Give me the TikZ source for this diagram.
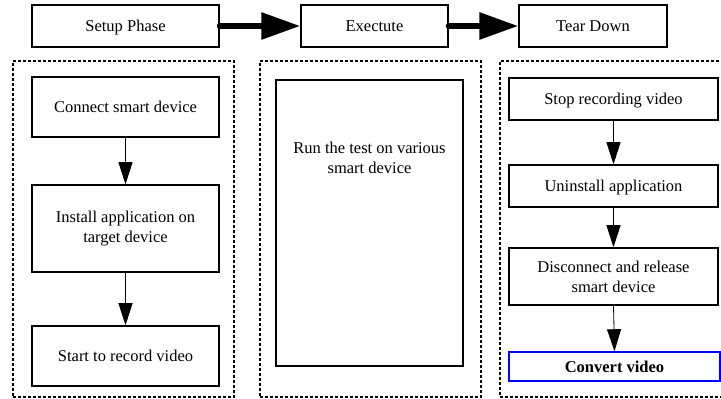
\documentclass[tikz,border=0pt]{standalone}
\usepackage{fontspec}
\setmainfont{Liberation Serif}
\usetikzlibrary{positioning}
\usetikzlibrary{arrows.meta}

\begin{document}
\begin{tikzpicture}[x=1pt, y=1pt,
font=\fontsize{16.5}{20}\selectfont,
phasenode/.style={rectangle, draw=black, line width=1.5pt, minimum height=42pt, inner sep=0pt, text height=12pt, text depth=0pt},
stepnode/.style={rectangle, draw=black, line width=1.5pt, align=center, inner sep=0pt},
onelinenode/.style={stepnode, text height=12pt, text depth=0pt},
groupnode/.style={rectangle, draw=black, line width=1.5pt, dash pattern=on 3pt off 2pt, minimum width=221pt, minimum height=336pt},
bigarrow/.style={-{Triangle[length=39pt, width=26pt]}, line width=6pt, line cap=round},
smallarrow/.style={-{Triangle[length=22pt, width=14pt]}, line width=0.8pt},
]
\useasboundingbox (0,0) rectangle (721,399);

%Groups
\node[groupnode] (setupgroup)    at (123.5,170) {};
\node[groupnode] (executegroup)  at (370.5,170) {};
\node[groupnode, minimum width=224pt] (teardowngroup) at (612,170) {};

%Phases
\node[phasenode, minimum width=187pt] (setup)    at (125.5,373) {Setup Phase};
\node[phasenode, minimum width=147pt] (execute)  at (374.5,373) {Exectute};
\node[phasenode, minimum width=148pt] (teardown) at (593,373)   {Tear Down};

%Setup steps
\node[onelinenode, minimum width=187pt, minimum height=60pt] (connect) at (125.5,292)   {Connect smart device};
\node[stepnode,    minimum width=187pt, minimum height=87pt] (install) at (125.5,170.5) {Install application on\\target device};
\node[onelinenode, minimum width=187pt, minimum height=60pt] (record)  at (125.5,43)    {Start to record video};

%Execute step
\node[stepnode, minimum width=187pt, minimum height=286pt, text depth=130pt] (runtest) at (369.5,176) {Run the test on various\\smart device};

%Tear down steps
\node[onelinenode, minimum width=209pt, minimum height=42pt] (stoprec)    at (613.5,300)   {Stop recording video};
\node[onelinenode, minimum width=209pt, minimum height=42pt] (uninstall)  at (613.5,213)   {Uninstall application};
\node[stepnode,    minimum width=209pt, minimum height=57pt] (disconnect) at (613.5,122.5) {Disconnect and release\\smart device};
\node[onelinenode, draw=blue, minimum width=211pt, minimum height=29pt, font=\fontsize{16.5}{20}\selectfont\bfseries] (convert) at (614.5,32.5) {Convert video};

%Lines
\draw[bigarrow] (setup.east) -- (execute.west);
\draw[bigarrow] (execute.east) -- (teardown.west);
\draw[smallarrow] (connect.south) -- (install.north);
\draw[smallarrow] (install.south) -- (record.north);
\draw[smallarrow] (stoprec.south) -- (uninstall.north);
\draw[smallarrow] (uninstall.south) -- (disconnect.north);
\draw[smallarrow] (disconnect.south) -- (convert.north);
\end{tikzpicture}
\end{document}
